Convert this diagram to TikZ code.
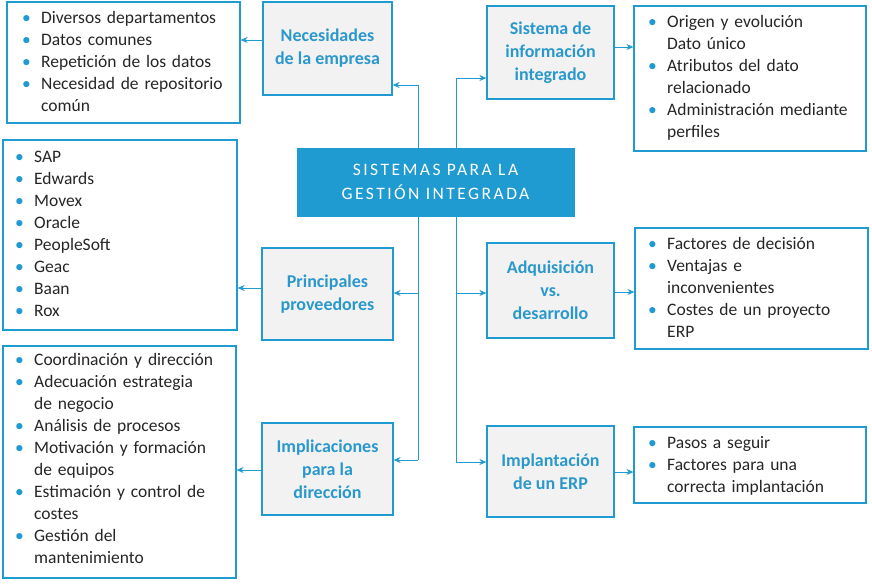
\documentclass[tikz,border=0pt]{standalone}
\usepackage{fontspec}
\setmainfont{Carlito}
\newfontfamily\spaced[LetterSpace=14]{Carlito}
\usetikzlibrary{arrows.meta}
\definecolor{bl}{HTML}{1F9BD1}
\definecolor{tb}{HTML}{2B98CC}
\definecolor{gf}{HTML}{F2F2F2}
\newcommand\itm[1]{\hangindent=19pt\hangafter=1\noindent\makebox[19pt][l]{\textcolor{bl}{\textbullet}}#1\par}
\begin{document}
\begin{tikzpicture}[x=1pt,y=-1pt,
 topic/.style={draw=bl,fill=gf,line width=1.2pt,text=tb,font=\bfseries\fontsize{18}{23}\selectfont,align=center},
 lst/.style={draw=bl,line width=1.2pt,fill=white},
 txt/.style={anchor=north west,inner sep=0pt,text width=240pt,font=\fontsize{17.5}{22}\selectfont,text=black!85},
 arr/.style={draw=bl,line width=0.9pt,-{Stealth[length=7pt,width=6pt]}},
 ln/.style={draw=bl,line width=0.9pt}]
\useasboundingbox (0,0) rectangle (872,584);
% trunks
\coordinate (la) at (418,85); \coordinate (lb) at (418,293); \coordinate (lc) at (418,460);
\coordinate (ra) at (456,78); \coordinate (rb) at (456,293); \coordinate (rc) at (456,462);
\draw[ln] (la) -- (lc); \draw[ln] (ra) -- (rc);
% center
\node[fill=bl,draw=bl,minimum width=277pt,minimum height=68pt,text=white,align=center,font=\spaced\fontsize{17.5}{24}\selectfont] (c) at (435.5,182) {SISTEMAS PARA LA\\GESTIÓN INTEGRADA};
% topics
\node[topic,minimum width=129pt,minimum height=93pt] (t1) at (327.5,48.5) {Necesidades\\de la empresa};
\node[topic,minimum width=131pt,minimum height=92pt] (t2) at (327.5,294) {Principales\\proveedores};
\node[topic,minimum width=131pt,minimum height=92pt] (t3) at (327.5,469) {Implicaciones\\para la\\dirección};
\node[topic,minimum width=127pt,minimum height=93pt] (t4) at (550.5,52.5) {Sistema de\\información\\integrado};
\node[topic,minimum width=127pt,minimum height=95pt] (t5) at (550.5,290.5) {Adquisición\\vs.\\desarrollo};
\node[topic,minimum width=127pt,minimum height=91pt] (t6) at (550.5,471.5) {Implantación\\de un ERP};
% lists
\node[lst,minimum width=233pt,minimum height=121pt] (l1) at (123.5,62.5) {};
\node[lst,minimum width=234pt,minimum height=190pt] (l2) at (120,235) {};
\node[lst,minimum width=233pt,minimum height=232pt] (l3) at (119.5,462) {};
\node[lst,minimum width=232pt,minimum height=145pt] (l4) at (750,78.5) {};
\node[lst,minimum width=233pt,minimum height=121pt] (l5) at (751.5,288.5) {};
\node[lst,minimum width=232pt,minimum height=76pt] (l6) at (750,465) {};
\node[txt] (x1) at (22,11) {\itm{Diversos departamentos}\itm{Datos comunes}\itm{Repetición de los datos}\itm{Necesidad de repositorio\newline común}};
\node[txt] (x2) at (15,151) {\itm{SAP}\itm{Edwards}\itm{Movex}\itm{Oracle}\itm{PeopleSoft}\itm{Geac}\itm{Baan}\itm{Rox}};
\node[txt] (x3) at (15,353) {\itm{Coordinación y dirección}\itm{Adecuación estrategia\newline de negocio}\itm{Análisis de procesos}\itm{Motivación y formación\newline de equipos}\itm{Estimación y control de\newline costes}\itm{Gestión del\newline mantenimiento}};
\node[txt] (x4) at (648,15) {\itm{Origen y evolución\newline Dato único}\itm{Atributos del dato\newline relacionado}\itm{Administración mediante\newline perfiles}};
\node[txt] (x5) at (648,237) {\itm{Factores de decisión}\itm{Ventajas e\newline inconvenientes}\itm{Costes de un proyecto\newline ERP}};
\node[txt] (x6) at (648,436) {\itm{Pasos a seguir}\itm{Factores para una\newline correcta implantación}};
% arrows
\draw[arr] (la) -- (la -| t1.east);
\draw[arr] (lb) -- (lb -| t2.east);
\draw[arr] (lc) -- (lc -| t3.east);
\draw[arr] (ra) -- (ra -| t4.west);
\draw[arr] (rb) -- (rb -| t5.west);
\draw[arr] (rc) -- (rc -| t6.west);
\draw[arr] (t1.west |- 0,40) -- (l1.east |- 0,40);
\draw[arr] (t2.west |- 0,288) -- (l2.east |- 0,288);
\draw[arr] (t3.west |- 0,470) -- (l3.east |- 0,470);
\draw[arr] (t4.east |- 0,47) -- (l4.west |- 0,47);
\draw[arr] (t5.east |- 0,292) -- (l5.west |- 0,292);
\draw[arr] (t6.east |- 0,472) -- (l6.west |- 0,472);
\end{tikzpicture}
\end{document}
